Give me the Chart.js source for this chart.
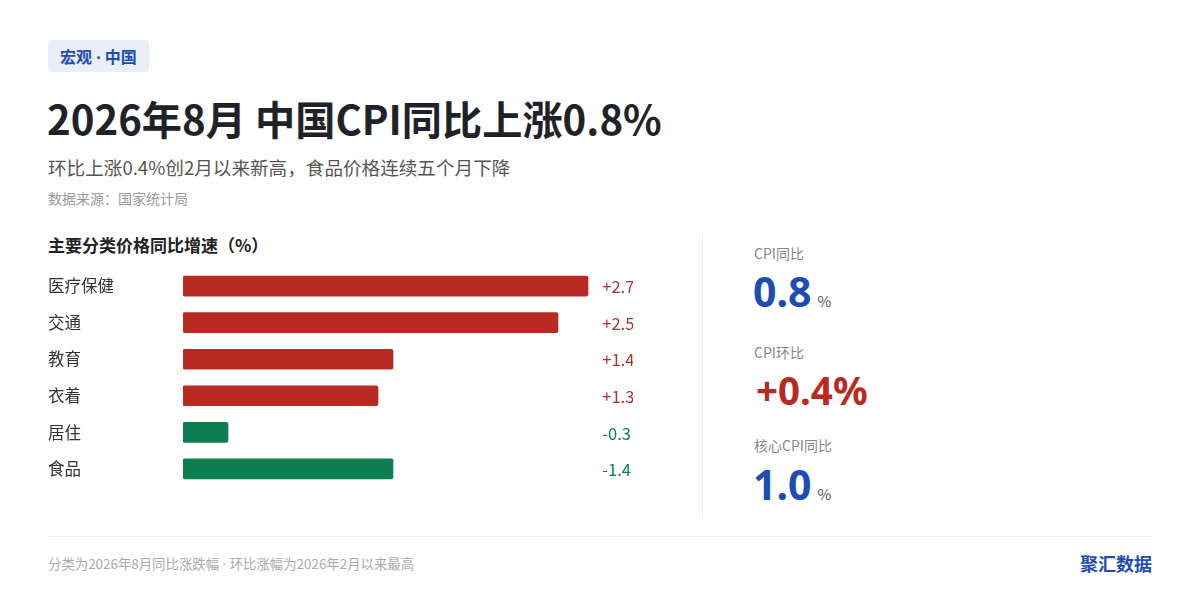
<!DOCTYPE html>
<html>
<head>
<meta charset="utf-8">
<script src="https://cdn.jsdelivr.net/npm/chart.js@4.4.1/dist/chart.umd.min.js"></script>
<style>
  html,body{margin:0;padding:0;background:#fff;}
  body{width:1200px;height:600px;position:relative;overflow:hidden;font-family:"Noto Sans CJK SC","Noto Sans",sans-serif;}
  .abs{position:absolute;white-space:nowrap;}
  .dot{font-family:"Noto Sans",sans-serif;}
  .tag{left:48px;top:40px;height:32px;line-height:32px;padding:0 12px;background:#e9eef9;color:#1d4db3;font-weight:700;font-size:16px;border-radius:3px;}
  .title{left:47px;top:90px;font-size:40.2px;font-weight:700;color:#1f2329;line-height:56px;}
  .sub{left:48px;top:153px;font-size:18.6px;color:#555;line-height:28px;}
  .src{left:48px;top:188px;font-size:14px;color:#999;line-height:20px;}
  .ctitle{left:48px;top:233px;font-size:17px;font-weight:700;color:#222;line-height:24px;}
  .divider{left:702px;top:233px;width:1px;height:286px;background:#eeeeee;}
  .klabel{left:754px;font-size:14px;color:#888;line-height:18px;}
  .kval{left:753px;font-family:"Noto Sans",sans-serif;font-weight:700;font-size:41px;line-height:40px;}
  .kval small{font-family:"Noto Sans CJK SC",sans-serif;font-size:15px;font-weight:400;color:#555;margin-left:6px;}
  .foot{left:48px;top:536px;width:1104px;height:1px;background:#eeeeee;}
  .ftext{left:48px;top:553px;font-size:13.4px;color:#aaa;line-height:20px;}
  .brand{right:48px;top:550px;font-size:18px;font-weight:700;color:#1d4db3;line-height:26px;}
  #wrap{position:absolute;left:48px;top:258px;width:585px;height:239px;}
</style>
</head>
<body>
<div class="abs tag">宏观<span class="dot"> · </span>中国</div>
<div class="abs title">2026年8月 中国CPI同比上涨0.8%</div>
<div class="abs sub">环比上涨0.4%创2月以来新高，食品价格连续五个月下降</div>
<div class="abs src">数据来源：国家统计局</div>
<div class="abs ctitle">主要分类价格同比增速（%）</div>
<div id="wrap"><canvas id="c"></canvas></div>
<div class="abs divider"></div>

<div class="abs klabel" style="top:244px;">CPI同比</div>
<div class="abs kval" style="top:271px;color:#1d4db3;">0.8<small>%</small></div>
<div class="abs klabel" style="top:343px;">CPI环比</div>
<div class="abs kval" style="top:370px;color:#b92a22;font-size:38.5px;left:756px;">+0.4%</div>
<div class="abs klabel" style="top:436px;">核心CPI同比</div>
<div class="abs kval" style="top:464px;color:#1d4db3;">1.0<small>%</small></div>

<div class="abs foot"></div>
<div class="abs ftext">分类为2026年8月同比涨跌幅<span class="dot"> · </span>环比涨幅为2026年2月以来最高</div>
<div class="abs brand">聚汇数据</div>

<script>
const categories = ["医疗保健","交通","教育","衣着","居住","食品"];
const yoyValues = [2.7, 2.5, 1.4, 1.3, -0.3, -1.4];
const valueLabels = ["+2.7","+2.5","+1.4","+1.3","-0.3","-1.4"];

const RED = "#b92a22", GREEN = "#0b7d4f";
const barColors = yoyValues.map(v => v >= 0 ? RED : GREEN);
const labelColors = yoyValues.map(v => v >= 0 ? "#b0302a" : "#0b7d4f");

const valueLabelPlugin = {
  id: "valueLabels",
  afterDatasetsDraw(chart) {
    const ctx = chart.ctx;
    const meta = chart.getDatasetMeta(0);
    const xs = chart.scales.x;
    ctx.save();
    ctx.font = '16.5px "Noto Sans CJK SC", "Noto Sans", sans-serif';
    ctx.textBaseline = "middle";
    ctx.textAlign = "left";
    meta.data.forEach((bar, i) => {
      ctx.fillStyle = labelColors[i];
      ctx.fillText(valueLabels[i], xs.getPixelForValue(2.795), bar.y + 1);
    });
    ctx.restore();
  }
};

new Chart(document.getElementById("c"), {
  type: "bar",
  data: {
    labels: categories,
    datasets: [{
      data: yoyValues.map(v => Math.abs(v)),
      backgroundColor: barColors,
      barThickness: 20,
      borderRadius: 2,
      borderSkipped: false
    }]
  },
  options: {
    indexAxis: "y",
    responsive: true,
    maintainAspectRatio: false,
    animation: false,
    layout: { padding: 0 },
    plugins: { legend: { display: false }, tooltip: { enabled: false } },
    scales: {
      x: { display: false, min: 0, max: 3 },
      y: {
        grid: { display: false },
        border: { display: false },
        afterFit(scale) { scale.width = 135; },
        ticks: {
          crossAlign: "far",
          padding: 0,
          color: "#333",
          font: { size: 16.5, family: '"Noto Sans CJK SC", "Noto Sans", sans-serif' }
        }
      }
    }
  },
  plugins: [valueLabelPlugin]
});
</script>
</body>
</html>
